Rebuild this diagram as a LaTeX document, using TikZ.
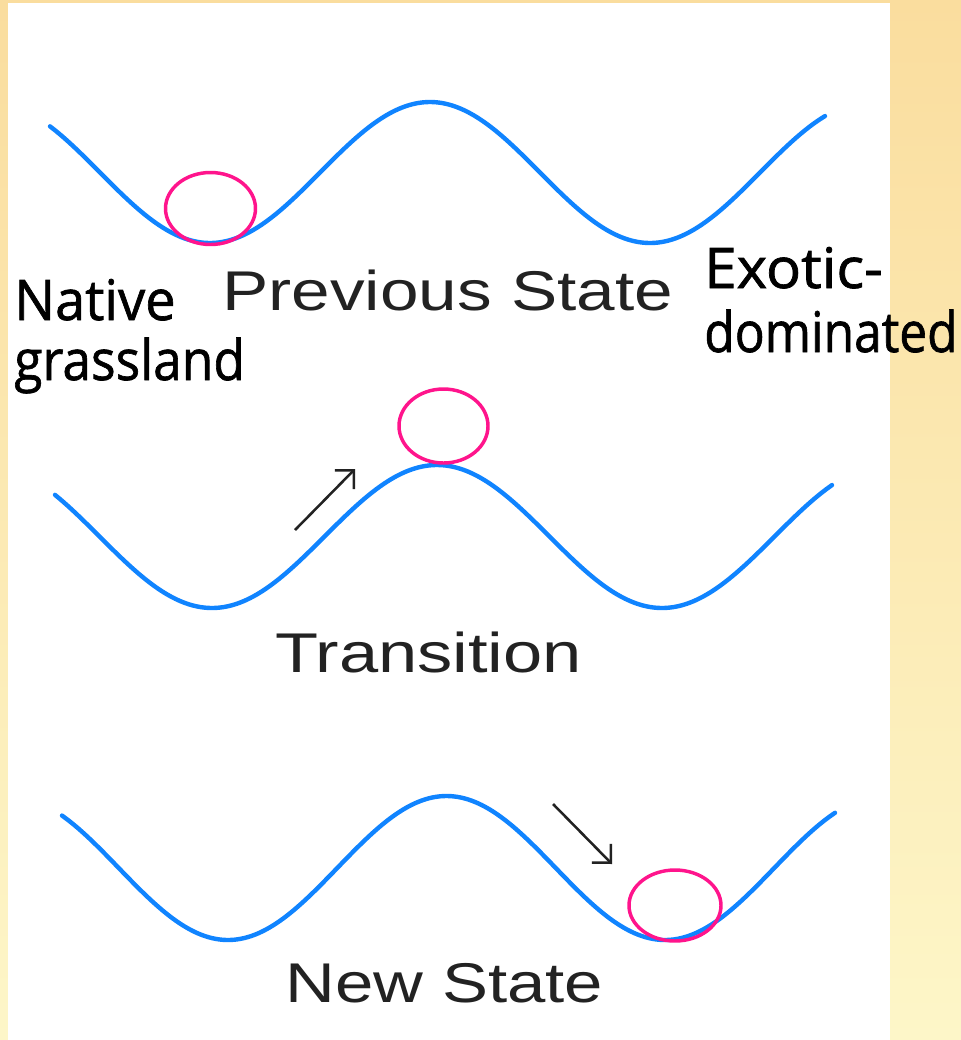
\documentclass[tikz,border=0pt]{standalone}
\usepackage{fontspec}
\usepackage{graphicx}
\setmainfont{Liberation Sans}
\newfontfamily\handfont[FakeBold=1.2]{Open Sans}
\usetikzlibrary{shapes.geometric,arrows.meta}
\definecolor{wave}{RGB}{16,132,255}
\definecolor{ball}{RGB}{255,20,140}
\definecolor{ink}{RGB}{34,34,34}
\definecolor{bgtop}{RGB}{250,221,158}
\definecolor{bgbot}{RGB}{253,246,200}
\newcommand{\fitwide}[2]{\resizebox{#1}{\height}{#2}}
\begin{document}
\begin{tikzpicture}[x=0.75pt,y=-0.75pt,
  wavepath/.style={draw=wave,line width=3.3pt,line cap=round},
  ballnode/.style={ellipse,draw=ball,line width=2.6pt,inner sep=0pt,outer sep=0pt},
  pushar/.style={draw=ink,line width=1.9pt,-{Straight Barb[length=10pt,width=20pt]}},
  statelabel/.style={anchor=base west,inner sep=0pt,text=ink,font=\fontsize{42}{50}\selectfont},
  handlabel/.style={anchor=base west,inner sep=0pt,text=black,font=\handfont\fontsize{42}{50}\selectfont}]
\useasboundingbox (0,0) rectangle (961,1040);
\shade[top color=bgtop,bottom color=bgbot] (0,0) rectangle (961,1040);
\fill[white] (8,3) rectangle (890,1040);
% waves
\draw[wavepath] plot[domain=50:825,samples=140,smooth] (\x,{172.5+70.5*cos((\x-210)/220*180)});
\draw[wavepath] plot[domain=55:832,samples=140,smooth] (\x,{536.5+71.5*cos((\x-212)/225*180)});
\draw[wavepath] plot[domain=62:835,samples=140,smooth] (\x,{868+72*cos((\x-228)/218.5*180)});
% balls
\node[ballnode,minimum width=67.5pt,minimum height=54pt] (b1) at (210.5,208.5) {};
\node[ballnode,minimum width=66.75pt,minimum height=55.5pt] (b2) at (443.5,426) {};
\node[ballnode,minimum width=69pt,minimum height=53.25pt] (b3) at (675,905.5) {};
% arrows
\coordinate (a1s) at (295,530);
\coordinate (a1e) at (355,469);
\draw[pushar] (a1s) -- (a1e);
\coordinate (a2s) at (553,804);
\coordinate (a2e) at (612,864);
\draw[pushar] (a2s) -- (a2e);
% state labels
\node[statelabel] (prev) at (222,310) {\fitwide{338pt}{Previous State}};
\node[statelabel] (trans) at (275,672) {\fitwide{230pt}{Transition}};
\node[statelabel] (new) at (285,1002) {\fitwide{238.5pt}{New State}};
% hand labels
\node[handlabel] (nat1) at (14,320) {\fitwide{121pt}{Native}};
\node[handlabel] (nat2) at (14,380) {\fitwide{173pt}{grassland}};
\node[handlabel] (exo1) at (704,288) {\fitwide{134pt}{Exotic-}};
\node[handlabel] (exo2) at (704,352) {\fitwide{190pt}{dominated}};
\end{tikzpicture}
\end{document}
